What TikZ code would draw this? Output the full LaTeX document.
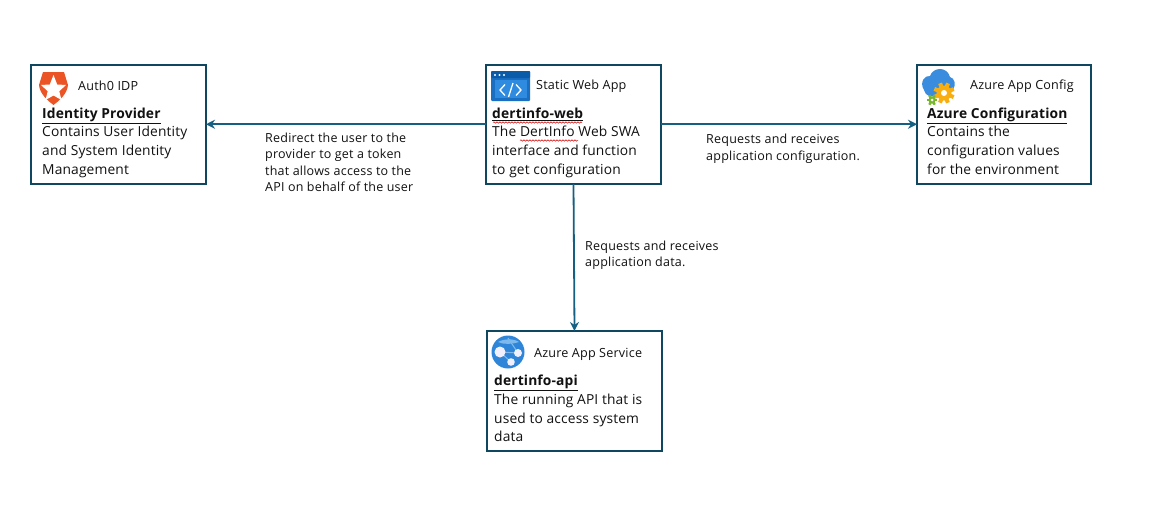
\documentclass[tikz,border=0pt]{standalone}
\usepackage{fontspec}
\setmainfont{Open Sans}
\usetikzlibrary{arrows.meta,decorations.pathmorphing}
\definecolor{boxc}{HTML}{0F4761}
\definecolor{arrc}{HTML}{156082}
\definecolor{txt}{HTML}{111111}
\definecolor{auth}{HTML}{EB5424}
\definecolor{swaframe}{HTML}{1B6FC2}
\definecolor{swatop}{HTML}{0A5CA8}
\definecolor{swain}{HTML}{2E8BE0}
\definecolor{cloudc}{HTML}{3A8DDE}
\definecolor{gearc}{HTML}{F9AE10}
\definecolor{gearg}{HTML}{76B82A}
\definecolor{ballc}{HTML}{2F86D8}
\definecolor{balll}{HTML}{7DB9EC}
\tikzset{
 x=1pt,y=-1pt,
 card/.style={draw=boxc,line width=2pt,fill=white,minimum width=#1,minimum height=119.5pt,inner sep=0pt,outer sep=0pt,anchor=north west},
 link/.style={draw=arrc,line width=1.8pt,-{Stealth[length=9pt,width=9pt]}},
 head/.style={anchor=west,inner sep=0pt,font=\fontsize{12.6}{14}\selectfont\addfontfeatures{LetterSpace=1.5},text=txt},
 body/.style={anchor=north west,inner sep=0pt,align=left,font=\fontsize{13.8}{18.7}\selectfont\addfontfeatures{LetterSpace=1},text=txt},
 note/.style={anchor=north west,inner sep=0pt,align=left,font=\fontsize{12.5}{16.5}\selectfont\addfontfeatures{LetterSpace=1.8},text=txt},
 spell/.style={draw=red!80!black,line width=.5pt,decorate,decoration={snake,amplitude=.7pt,segment length=3pt}},
}
\newcommand{\ttl}[1]{\textbf{\underline{#1}}}
\begin{document}
\begin{tikzpicture}
\useasboundingbox (0,0) rectangle (1154,528);
\fill[white] (0,0) rectangle (1154,528);
% boxes
\node[card=175pt] (authb) at (31,64.5) {};
\node[card=175pt] (web) at (486,64.5) {};
\node[card=174pt] (conf) at (917,64.5) {};
\node[card=175pt] (api) at (487,331) {};
% connectors
\draw[link] (web.west) -- (authb.east);
\draw[link] (web.east) -- (conf.west);
\draw[link] (web.south) -- (api.north);
% Auth0 icon
\fill[auth] (43,72) -- (64,72) -- (68,85) .. controls (67,94) and (60,100) .. (53.5,105) .. controls (47,100) and (40,94) .. (39,85) -- cycle;
\fill[white] (53.5,75) -- (57.2,84.5) -- (66,85) -- (59.3,91.2) -- (61.5,100) -- (53.5,95.5) -- (45.5,100) -- (47.7,91.2) -- (41,85) -- (49.8,84.5) -- cycle;
% SWA icon
\fill[swaframe,rounded corners=1pt] (491,71) rectangle (530,101);
\fill[swatop,rounded corners=1pt] (491,71) rectangle (530,78);
\fill[swain] (495,79.5) rectangle (527,98);
\fill[white] (495,75) circle (1.2pt) (499.5,75) circle (1.2pt) (504,75) circle (1.2pt);
\draw[white,line width=1.3pt] (505,84.5) -- (500,90) -- (505,95.5) (516,84.5) -- (521,90) -- (516,95.5) (513,83) -- (508.5,97);
% Config icon
\fill[cloudc] (924,90) .. controls (919,82) and (925,75) .. (930,76) .. controls (933,67) and (947,66) .. (950,77) .. controls (955,78) and (956,85) .. (953,90) -- (940,97) -- (929,96) .. controls (926,95) and (925,93) .. (924,90) -- cycle;
\fill[gearc] (944,93) circle (7.5pt);
\foreach \a in {22,67,...,337} \fill[gearc] (944,93) ++(\a:6pt) ++(\a+90:2pt) -- ++(\a:4.5pt) -- ++(\a-90:4pt) -- ++(\a+180:4.5pt) -- cycle;
\fill[white] (944,93) circle (3pt);
\fill[gearg] (932,100) circle (3.6pt);
\foreach \a in {0,60,...,300} \fill[gearg] (932,100) ++(\a:3pt) ++(\a+90:1.2pt) -- ++(\a:2.4pt) -- ++(\a-90:2.4pt) -- ++(\a+180:2.4pt) -- cycle;
\fill[white] (932,100) circle (1.5pt);
% App service icon
\fill[ballc] (508,352) circle (16.5pt);
\fill[balll] (498,342) .. controls (503,339) and (513,338) .. (519,342) .. controls (513,344) and (504,345) .. (498,342) -- cycle;
\draw[balll,line width=1pt] (500,352) -- (518,353) (500,352) -- (511,362) (508,338) -- (518,353);
\fill[white!94!blue] (500,352) circle (5.5pt) (518,353) circle (4pt) (511,362) circle (3.8pt);
% heads
\node[head] (t1) at (78,86) {Auth0 IDP};
\node[head] (t2) at (536,86.5) {Static Web App};
\node[head] (t3) at (970,86.5) {Azure App Config};
\node[head] (t4) at (534,354.5) {Azure App Service};
% body
\node[body] (b1) at (42,107.5) {\ttl{Identity Provider}\\Contains User Identity\\and System Identity\\Management};
\node[body] (b2) at (492,107.5) {\ttl{dertinfo-web}\\The DertInfo Web SWA\\interface and function\\to get configuration};
\node[body] (b3) at (927,107.5) {\ttl{Azure Configuration}\\Contains the\\configuration values\\for the environment};
\node[body] (b4) at (494,375) {\ttl{dertinfo-api}\\The running API that is\\used to access system\\data};
% spell marks
\draw[spell] (493,122.5) -- (582,122.5);
\draw[spell] (520,140.5) -- (578,140.5);
% notes
\node[note] (n1) at (265,132.5) {Redirect the user to the\\provider to get a token\\that allows access to the\\API on behalf of the user};
\node[note] (n2) at (706,134) {Requests and receives\\application configuration.};
\node[note] (n3) at (585,240.5) {Requests and receives\\application data.};
\end{tikzpicture}
\end{document}
